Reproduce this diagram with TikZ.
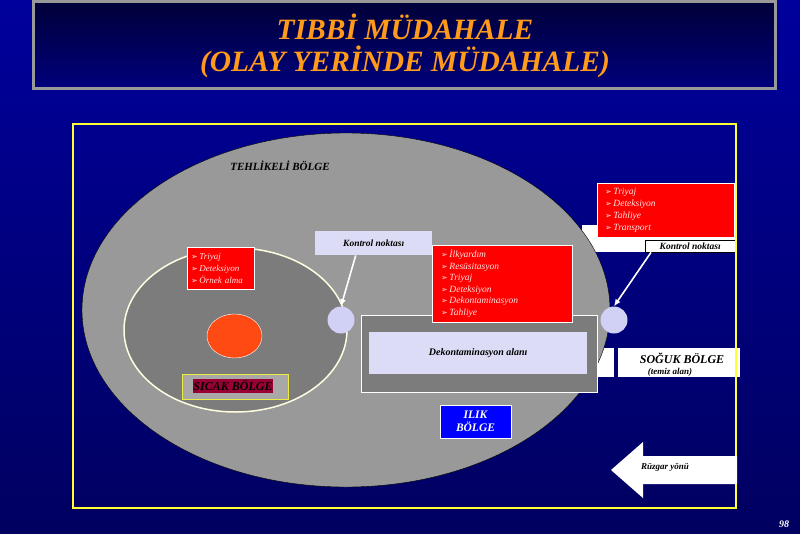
\documentclass[tikz,border=0pt]{standalone}
\usepackage{fontspec}
\setmainfont{Liberation Serif}
\newfontfamily\okfont{DejaVu Sans}
\usetikzlibrary{arrows.meta}

\definecolor{zeminust}{HTML}{00009C}
\definecolor{zeminorta}{HTML}{0000E2}
\definecolor{zeminalt}{HTML}{000060}
\definecolor{baslikust}{HTML}{000038}
\definecolor{baslikalt}{HTML}{00007C}
\definecolor{turuncu}{HTML}{FF9A1A}
\definecolor{gri}{HTML}{999999}
\definecolor{koyugri}{HTML}{7C7C7C}
\definecolor{lav}{HTML}{DCDCF6}
\definecolor{pembe}{HTML}{FFE4E4}
\definecolor{bordo}{HTML}{990033}
\definecolor{sari}{HTML}{FFFF33}
\definecolor{sicak}{HTML}{FF4A14}

\newcommand{\madde}{{\okfont\fontsize{8}{8}\selectfont ➢}\,}

\begin{document}
\begin{tikzpicture}[x=1pt, y=-1pt,
        etiket/.style={font=\bfseries\itshape\fontsize{9.5}{11}\selectfont, text=black, inner sep=0pt},
        kirmizi/.style={draw=white, fill=red, anchor=north west, inner ysep=0pt,
                        text=pembe, align=left, font=\itshape\fontsize{9.5}{12}\selectfont},
        lavanta/.style={fill=lav, inner sep=0pt, anchor=north west},
        nokta/.style={circle, fill=lav!95!blue, minimum size=27pt, inner sep=0pt}]

        \useasboundingbox (0,0) rectangle (800,533);

        % Background and title
        \shade[top color=zeminust, middle color=zeminorta, bottom color=zeminalt] (0,0) rectangle (800,533);
        \shade[top color=baslikust, bottom color=baslikalt, draw=gri, line width=3pt] (33,1.5) rectangle (775,88);
        \node[text=turuncu, font=\bfseries\itshape\fontsize{29.5}{32}\selectfont, align=center] (baslik) at (405,46)
              {TIBBİ MÜDAHALE\\(OLAY YERİNDE MÜDAHALE)};

        % White pieces behind the zone
        \fill[white] (582,225) rectangle (737,252);
        \fill[white] (588,348) rectangle (614,377);

        % Zones
        \draw[fill=gri, draw=black, thin] (346,310) ellipse [x radius=264, y radius=177];
        \node[etiket, font=\bfseries\itshape\fontsize{11}{12}\selectfont] (tehlike) at (280,166) {TEHLİKELİ BÖLGE};
        \draw[fill=koyugri, draw=white!88!yellow, line width=1.5pt] (235.5,330) ellipse [x radius=111.5, y radius=82];
        \draw[fill=sicak, draw=white, thin] (234.5,336) ellipse [x radius=27.5, y radius=22];

        % Hot zone label
        \draw[fill=gri!85!white, draw=sari!85!gray] (182,374) rectangle (288,399);
        \node[etiket, fill=bordo, minimum width=80pt, minimum height=14pt, font=\bfseries\itshape\fontsize{12}{12}\selectfont]
              (sicakbolge) at (233,386) {SICAK BÖLGE};

        % Lists and control points
        \node[kirmizi, text width=59pt, inner xsep=4pt, minimum height=42pt, font=\itshape\fontsize{9}{12}\selectfont]
              (liste1) at (187,247)
              {\madde Triyaj\\\madde Deteksiyon\\\madde Örnek alma};
        \node[lavanta, minimum width=117pt, minimum height=24pt] (kn1) at (315,231) {};
        \node[etiket] at (kn1.center) {Kontrol noktası};
        \node[nokta] (cp1) at (341,320) {};

        \draw[fill=koyugri, draw=white] (361,315) rectangle (597,392);
        \node[lavanta, minimum width=218pt, minimum height=42pt] (dekonalan) at (369,332) {};
        \node[etiket, font=\bfseries\itshape\fontsize{10}{11}\selectfont] at (dekonalan.center) {Dekontaminasyon alanı};
        \node[kirmizi, text width=122pt, inner xsep=9pt, minimum height=77pt, font=\itshape\fontsize{9.5}{11.5}\selectfont]
              (liste2) at (432,245)
              {\madde İlkyardım\\\madde Resüsitasyon\\\madde Triyaj\\\madde Deteksiyon\\\madde Dekontaminasyon\\\madde Tahliye};

        \node[draw=white, fill=blue, text=white, align=center, minimum width=71pt, minimum height=33pt,
              font=\bfseries\itshape\fontsize{11.5}{13}\selectfont] (ilik) at (475.5,421.5) {ILIK\\BÖLGE};

        \node[nokta] (cp2) at (614,320) {};
        \node[kirmizi, text width=121pt, inner xsep=8pt, minimum height=54pt] (liste3) at (597,183)
              {\madde Triyaj\\\madde Deteksiyon\\\madde Tahliye\\\madde Transport};
        \node[draw=black, fill=white, anchor=north west, minimum width=90pt, minimum height=12pt, inner sep=0pt] (kn2) at (645,240) {};
        \node[etiket] at (kn2.center) {Kontrol noktası};

        % Cold zone
        \fill[white] (618,348) rectangle (740,377);
        \node[etiket, font=\bfseries\itshape\fontsize{12}{12}\selectfont] (soguk) at (682,358) {SOĞUK BÖLGE};
        \node[etiket, font=\bfseries\itshape\fontsize{9}{10}\selectfont] (temiz) at (670,372) {(temiz alan)};

        % Frame
        \draw[sari, line width=2pt] (73,124) rectangle (736,508);

        % Wind direction
        \fill[white] (611,470) -- (643,442) -- (643,456) -- (737,456) -- (737,484) -- (643,484) -- (643,498) -- cycle;
        \node[etiket, font=\bfseries\itshape\fontsize{9}{10}\selectfont] (ruzgar) at (665,467) {Rüzgar yönü};

        % Arrows to control points
        \draw[-{Latex[length=7pt, width=6pt]}, white, line width=1.6pt] ([xshift=-18pt]kn1.south) -- (cp1.north);
        \draw[-{Latex[length=7pt, width=6pt]}, white, line width=1.6pt] ([xshift=6pt]kn2.south west) -- (cp2.north);

        \node[text=white, font=\bfseries\itshape\fontsize{10}{10}\selectfont] (sayfa) at (784,524) {98};

    \end{tikzpicture}
\end{document}
